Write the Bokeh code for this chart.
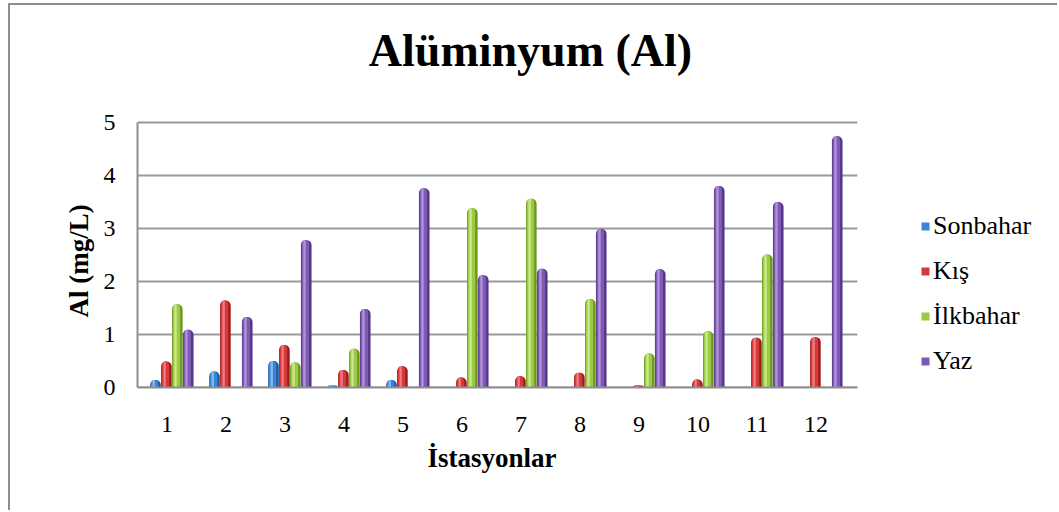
from bokeh.plotting import figure
from bokeh.models import ColumnDataSource, Range1d, FixedTicker, Legend, LegendItem, Label, Title
from bokeh.transform import dodge
from bokeh.embed import file_html
from bokeh.resources import INLINE

stations = [1, 2, 3, 4, 5, 6, 7, 8, 9, 10, 11, 12]
sonbahar = [0.14, 0.30, 0.50, 0.04, 0.14, 0, 0, 0, 0, 0, 0, 0]
kis = [0.49, 1.64, 0.80, 0.33, 0.40, 0.19, 0.21, 0.28, 0.04, 0.15, 0.94, 0.95]
ilkbahar = [1.57, 0, 0.47, 0.73, 0, 3.38, 3.56, 1.67, 0.64, 1.06, 2.51, 0]
yaz = [1.09, 1.33, 2.78, 1.48, 3.76, 2.12, 2.24, 2.99, 2.23, 3.80, 3.50, 4.74]
series_names = ["Sonbahar", "Kış", "İlkbahar", "Yaz"]
y_ticks = [0, 1, 2, 3, 4, 5]

FONT = "Liberation Serif"

# layout (pixels)
W_PX, H_PX = 1049, 507
LEFT, BOTTOM = 127, 125
PX_X, PX_Y = 59.0, 53.0
X0 = 0.5
X_WALL_END = 12.7
Y_MAX = 5

x_end = X0 + (W_PX - LEFT) / PX_X
y_end = (H_PX - BOTTOM) / PX_Y

src = ColumnDataSource(dict(station=stations, s0=sonbahar, s1=kis, s2=ilkbahar, s3=yaz))
grid_src = ColumnDataSource(dict(y=y_ticks, x0=[X0] * len(y_ticks), x1=[X_WALL_END] * len(y_ticks)))

p = figure(width=W_PX, height=H_PX, output_backend="svg", toolbar_location=None,
           x_range=Range1d(X0, x_end), y_range=Range1d(0, y_end),
           min_border_left=LEFT, min_border_right=0, min_border_top=0, min_border_bottom=BOTTOM,
           styles={"margin-left": "8px", "margin-top": "3px",
                   "border-left": "2px solid #8e8e8e", "border-top": "2px solid #8e8e8e"})
p.outline_line_color = None
p.background_fill_color = "white"
p.border_fill_color = "white"
p.xgrid.grid_line_color = None
p.ygrid.grid_line_color = None

# back-wall gridlines
p.segment(x0="x0", x1="x1", y0="y", y1="y", source=grid_src, line_color="#9a9a9a", line_width=2)

# shading layers: (dark, mid, highlight)
colors = [("#1d5aa3", "#3a84d4", "#9cc8f2"),
          ("#9e1b1d", "#d7383a", "#f29090"),
          ("#6c981f", "#9bca45", "#d8f0a0"),
          ("#553689", "#7e5ab4", "#bca4de")]
offsets = [-0.195, -0.01, 0.175, 0.36]
W = 0.18
swatch_renderers = []
label_renderers = []
for i, (dark, mid, hl) in enumerate(colors):
    col = "s%d" % i
    off = offsets[i]
    p.vbar(x=dodge("station", off, range=p.x_range), top=col, width=W, source=src,
           fill_color=dark, line_color=None, border_radius=(5, 5, 0, 0))
    p.vbar(x=dodge("station", off - 0.015, range=p.x_range), top=col, width=W * 0.7, source=src,
           fill_color=mid, line_color=None, border_radius=(4, 4, 0, 0))
    p.vbar(x=dodge("station", off - 0.03, range=p.x_range), top=col, width=W * 0.22, source=src,
           fill_color=hl, line_color=None, fill_alpha=0.8, border_radius=(2, 2, 0, 0))
    # zero-width bars: only used to draw the legend swatch
    swatch_renderers.append(p.vbar(x="station", top=col, width=0, source=src,
                                   fill_color=mid, line_color=None))
    label_renderers.append(p.quad(left=[], right=[], top=[], bottom=[], fill_color=mid))

p.xaxis.ticker = FixedTicker(ticks=stations)
p.yaxis.ticker = FixedTicker(ticks=y_ticks)
p.xaxis.bounds = (X0, X_WALL_END)
p.yaxis.bounds = (0, Y_MAX)

for ax in (p.xaxis[0], p.yaxis[0]):
    ax.axis_line_color = "#8e8e8e"
    ax.axis_line_width = 2
    ax.major_tick_line_color = None
    ax.minor_tick_line_color = None
    ax.major_label_text_font = FONT
    ax.major_label_text_font_size = "24px"
    ax.major_label_text_color = "black"

p.yaxis.major_label_standoff = 16
p.xaxis.major_label_standoff = 23

# axis titles (as side titles so they can be positioned along the axes)
p.add_layout(Title(text="Al (mg/L)", align="left", offset=70, standoff=13,
                   text_font=FONT, text_font_size="27px", text_font_style="bold",
                   text_color="black"), "left")
p.add_layout(Title(text="İstasyonlar", align="left", offset=290, standoff=12,
                   text_font=FONT, text_font_size="27px", text_font_style="bold",
                   text_color="black"), "below")

legend_kw = dict(location=(910 - LEFT, 11), border_line_color=None, background_fill_alpha=0,
                 padding=0, margin=0, spacing=15, label_height=30, glyph_width=10, glyph_height=10,
                 label_standoff=3, label_text_font=FONT, label_text_font_size="26px",
                 label_text_color="black")
# labels first (text), then swatches
labels = Legend(items=[LegendItem(label=n, renderers=[r]) for n, r in zip(series_names, label_renderers)],
                **legend_kw)
swatches = Legend(items=[LegendItem(label=" ", renderers=[r]) for r in swatch_renderers], **legend_kw)
p.add_layout(labels, "center")
p.add_layout(swatches, "center")

# chart title
p.add_layout(Label(x=X0 + (520 - LEFT) / PX_X, y=(H_PX - BOTTOM - 45) / PX_Y,
                   text="Alüminyum (Al)", text_font=FONT, text_font_size="46px",
                   text_font_style="bold", text_color="black",
                   text_align="center", text_baseline="alphabetic"))

open("out.html", "w").write(file_html(p, INLINE))
